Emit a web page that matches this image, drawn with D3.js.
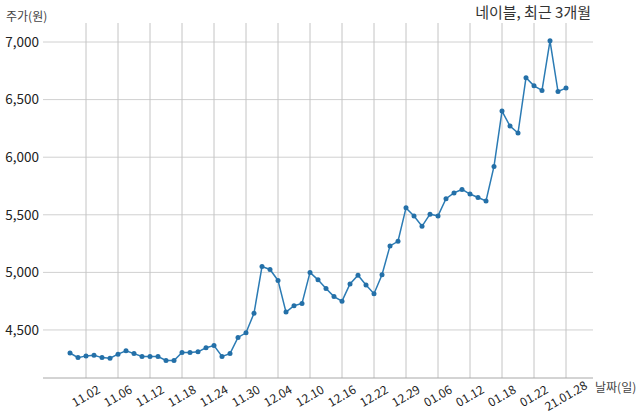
<!DOCTYPE html>
<html><head><meta charset="utf-8">
<script src="https://cdn.jsdelivr.net/npm/d3@7"></script>
<style>
body{margin:0;background:#fff;}
text{font-family:"Noto Sans CJK KR","Noto Sans",sans-serif;}
</style></head>
<body><svg id="c" width="640" height="419"></svg>
<script>
const dates = ["10.29","10.30","11.02","11.03","11.04","11.05","11.06","11.09","11.10","11.11","11.12","11.13","11.16","11.17","11.18","11.19","11.20","11.23","11.24","11.25","11.26","11.27","11.30","12.01","12.02","12.03","12.04","12.07","12.08","12.09","12.10","12.11","12.14","12.15","12.16","12.17","12.18","12.21","12.22","12.23","12.24","12.28","12.29","12.30","01.04","01.05","01.06","01.07","01.08","01.11","01.12","01.13","01.14","01.15","01.18","01.19","01.20","01.21","01.22","01.25","01.26","01.27","01.28"];
const prices = [4300,4260,4275,4280,4260,4255,4290,4320,4295,4270,4270,4270,4235,4235,4305,4305,4310,4345,4365,4270,4295,4435,4475,4645,5050,5025,4930,4655,4710,4730,5000,4935,4860,4790,4750,4900,4975,4890,4815,4980,5230,5270,5560,5490,5400,5505,5490,5640,5690,5720,5680,5650,5620,5920,6400,6270,6210,6690,6620,6580,7010,6570,6600];
const tickDates = ["11.02","11.06","11.12","11.18","11.24","11.30","12.04","12.10","12.16","12.22","12.29","01.06","01.12","01.18","01.22","01.28"];
const tickLabels = ["11.02","11.06","11.12","11.18","11.24","11.30","12.04","12.10","12.16","12.22","12.29","01.06","01.12","01.18","01.22","21.01.28"];
const yTicks = [4500,5000,5500,6000,6500,7000];
const title = "네이블, 최근 3개월";
const yLabel = "주가(원)";
const xLabel = "날짜(일)";

const svg = d3.select("#c");
const L=43, R=593, T=23, B=378;
const x = d3.scalePoint().domain(dates).range([L,R]).padding(3.375);
const y = d3.scaleLinear().domain([4083,7165]).range([B,T]);

// grid
svg.append("g").selectAll("line").data(yTicks).join("line")
  .attr("x1",L).attr("x2",R).attr("y1",d=>y(d)).attr("y2",d=>y(d))
  .attr("stroke","#d0d0d0").attr("stroke-width",1);
svg.append("g").selectAll("line").data(tickDates).join("line")
  .attr("x1",d=>x(d)).attr("x2",d=>x(d)).attr("y1",T).attr("y2",B)
  .attr("stroke","#c4c4c4").attr("stroke-width",1);
svg.append("line").attr("x1",L).attr("x2",R).attr("y1",B).attr("y2",B)
  .attr("stroke","#a8a8a8").attr("stroke-width",1);

// y tick labels
svg.append("g").selectAll("text").data(yTicks).join("text")
  .attr("x",39).attr("y",d=>y(d)).attr("dy","0.35em")
  .attr("text-anchor","end").attr("font-size",13.5).attr("fill","#222")
  .text(d3.format(","));

// x tick labels
svg.append("g").selectAll("text").data(tickDates).join("text")
  .attr("transform",d=>`translate(${x(d)},396) rotate(-30)`)
  .attr("text-anchor","middle").attr("dy","0.35em")
  .attr("font-size",12).attr("fill","#222")
  .text((d,i)=>tickLabels[i]);

// line
const line = d3.line().x((d,i)=>x(dates[i])).y(d=>y(d));
svg.append("path").datum(prices).attr("d",line)
  .attr("fill","none").attr("stroke","#2b7bb4").attr("stroke-width",1.5);
svg.append("g").selectAll("circle").data(prices).join("circle")
  .attr("cx",(d,i)=>x(dates[i])).attr("cy",d=>y(d)).attr("r",2.5)
  .attr("fill","#2470a8");

// labels
svg.append("text").attr("x",591).attr("y",18).attr("text-anchor","end")
  .attr("font-size",15).attr("fill","#333").text(title);
svg.append("text").attr("x",6).attr("y",21).attr("font-size",12)
  .attr("fill","#444").text(yLabel);
svg.append("text").attr("x",595).attr("y",392).attr("font-size",12)
  .attr("fill","#444").text(xLabel);
</script></body></html>
